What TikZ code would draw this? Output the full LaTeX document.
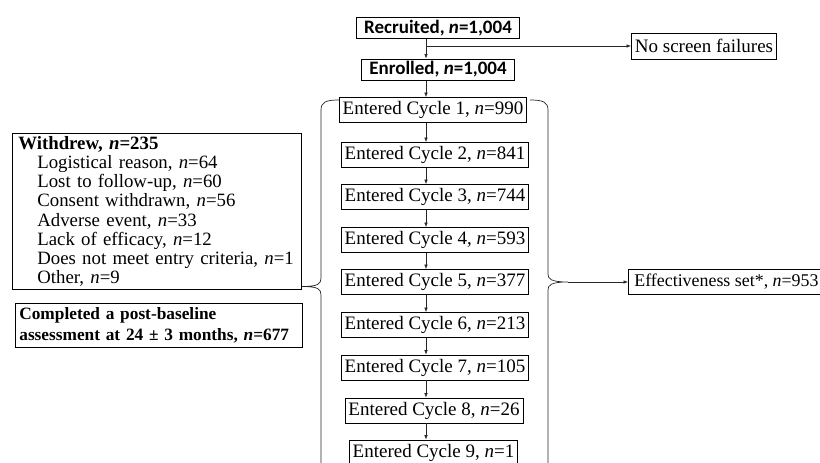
\documentclass[tikz,border=0pt]{standalone}
\usepackage{fontspec}
\setmainfont{Liberation Serif}
\newfontfamily\calfont{Carlito}
\usetikzlibrary{arrows.meta}
\begin{document}
\begin{tikzpicture}[x=1pt,y=-1pt,
  box/.style={draw, line width=0.7pt, inner xsep=3.5pt, inner ysep=0pt, minimum height=25pt, font=\fontsize{19}{19}\selectfont},
  topbox/.style={draw, line width=1pt, inner xsep=8pt, inner ysep=0pt, minimum height=21pt, font=\calfont\bfseries\fontsize{19}{19}\selectfont},
  arr/.style={-{Latex[length=4.5pt,width=3.5pt]}, line width=0.6pt, black!85},
  brace/.style={line width=0.7pt, black!85}]
\useasboundingbox (0,0) rectangle (820,463);
\clip (0,0) rectangle (820,463);
\coordinate (sp) at (426,0);
% top boxes
\node[topbox] (rec) at (438,28) {Recruited, \textit{n}=1,004};
\node[topbox] (enr) at (438,69.5) {Enrolled, \textit{n}=1,004};
\node[box, minimum height=26pt] (nsf) at (704,46) {No screen failures};
% cycles
\node[box] (c1) at (433,110) {Entered Cycle 1, \textit{n}=990};
\node[box] (c2) at (435,155) {Entered Cycle 2, \textit{n}=841};
\node[box] (c3) at (435,197) {Entered Cycle 3, \textit{n}=744};
\node[box] (c4) at (435,240) {Entered Cycle 4, \textit{n}=593};
\node[box] (c5) at (435,282) {Entered Cycle 5, \textit{n}=377};
\node[box] (c6) at (435,325) {Entered Cycle 6, \textit{n}=213};
\node[box] (c7) at (435,367.5) {Entered Cycle 7, \textit{n}=105};
\node[box] (c8) at (434,410.5) {Entered Cycle 8, \textit{n}=26};
\node[box] (c9) at (433.5,452.5) {Entered Cycle 9, \textit{n}=1};
% arrows
\draw[arr] (rec.south -| sp) -- (enr.north -| sp);
\coordinate (nsfa) at (426,46);
\draw[arr] (nsfa) -- (nsf.west);
\draw[arr] (enr.south -| sp) -- (c1.north -| sp);
\foreach \i/\j in {1/2,2/3,3/4,4/5,5/6,6/7,7/8,8/9}
  \draw[arr] (c\i.south -| sp) -- (c\j.north -| sp);
% withdrew box
\node[draw, line width=0.7pt, anchor=north west, text width=285pt, inner xsep=2pt, inner ysep=3pt, align=left, font=\fontsize{18.8}{19.2}\selectfont] (wd) at (12,133)
 {\hspace*{4pt}\textbf{Withdrew, \textit{n}=235}\\
  \hspace*{23pt}Logistical reason, \textit{n}=64\\
  \hspace*{23pt}Lost to follow-up, \textit{n}=60\\
  \hspace*{23pt}Consent withdrawn, \textit{n}=56\\
  \hspace*{23pt}Adverse event, \textit{n}=33\\
  \hspace*{23pt}Lack of efficacy, \textit{n}=12\\
  \hspace*{23pt}Does not meet entry criteria, \textit{n}=1\\
  \hspace*{23pt}Other, \textit{n}=9};
\node[draw, line width=0.7pt, anchor=north west, text width=283pt, inner xsep=2pt, inner ysep=4pt, align=left, font=\bfseries\fontsize{17.3}{21}\selectfont] (cmp) at (15,303)
 {\hspace*{2pt}Completed a post-baseline\\\hspace*{2pt}assessment at 24 ± 3 months, \textit{n}=677};
% braces
\coordinate (lbt) at (302,286.5);
\draw[brace] (339,100) .. controls (326,100) and (321,102) .. (321,110) -- (321,278)
  .. controls (321,284) and (318,286.5) .. (lbt)
  .. controls (318,286.5) and (321,289) .. (321,295) -- (321,475);
\coordinate (rbt) at (568,282);
\draw[brace] (530,100) .. controls (543,100) and (548,102) .. (548,110) -- (548,274)
  .. controls (548,279) and (551,282) .. (rbt)
  .. controls (551,282) and (548,285) .. (548,290) -- (548,475);
\node[box, anchor=west, inner xsep=6pt, font=\fontsize{17.9}{17.9}\selectfont] (eff) at (628,282) {Effectiveness set*, \textit{n}=953};
\draw[arr] (rbt) -- (eff.west);
\end{tikzpicture}
\end{document}
